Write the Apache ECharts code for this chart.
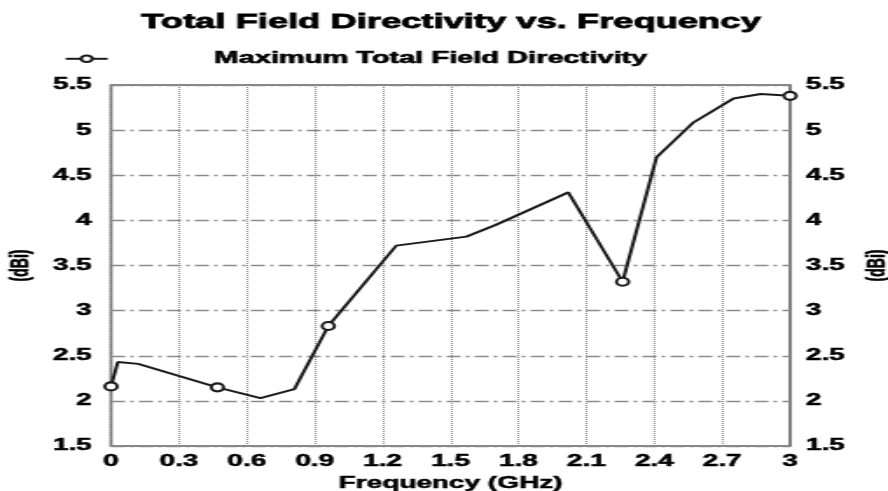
<!DOCTYPE html>
<html>
<head>
<meta charset="utf-8">
<script src="https://cdn.jsdelivr.net/npm/echarts@6/dist/echarts.min.js"></script>
<style>
html,body{margin:0;padding:0;background:#fff;overflow:hidden;}
#c{width:508px;height:491px;transform:scaleX(1.748);transform-origin:0 0;}
</style>
</head>
<body>
<div id="c"></div>
<script>
// Data
const frequencyGHz = [0, 0.03, 0.12, 0.47, 0.66, 0.81, 0.96, 1.26, 1.57, 1.70, 2.02, 2.26, 2.41, 2.57, 2.75, 2.87, 3.0];
const directivityDBi = [2.16, 2.43, 2.41, 2.15, 2.03, 2.13, 2.83, 3.72, 3.82, 3.95, 4.31, 3.32, 4.70, 5.08, 5.35, 5.40, 5.38];
const markerIndices = [0, 3, 6, 11, 16];
const xTickLabels = ['0', '0.3', '0.6', '0.9', '1.2', '1.5', '1.8', '2.1', '2.4', '2.7', '3'];
const yTickLabels = ['1.5', '2', '2.5', '3', '3.5', '4', '4.5', '5', '5.5'];
const seriesName = 'Maximum Total Field Directivity';
const titleText = 'Total Field Directivity vs. Frequency';
const xAxisName = 'Frequency (GHz)';
const yAxisName = '(dBi)';

const FONT = "'Liberation Sans', Arial, sans-serif";
const points = frequencyGHz.map((f, i) => [f, directivityDBi[i]]);

const chart = echarts.init(document.getElementById('c'), null, {renderer: 'canvas'});
const xMin = 0, xMax = 3, xInt = 0.3;
const yMin = 1.5, yMax = 5.5, yInt = 0.5;
const fmtX = v => { const i = Math.round((v - xMin) / xInt); return xTickLabels[i] !== undefined ? xTickLabels[i] : ''; };
const fmtY = v => { const i = Math.round((v - yMin) / yInt); return yTickLabels[i] !== undefined ? yTickLabels[i] : ''; };

const heavy = (size, bw) => ({color: '#000', fontFamily: FONT, fontWeight: 'bold', fontSize: size, textBorderColor: '#000', textBorderWidth: bw === undefined ? 0.5 : bw});
const yAxisCommon = {
  type: 'value', min: yMin, max: yMax, interval: yInt,
  name: yAxisName, nameLocation: 'middle', nameRotate: 90,
  nameTextStyle: heavy(14),
  axisLine: {show: false}, axisTick: {show: false}
};

chart.setOption({
  animation: false,
  backgroundColor: '#fff',
  title: {
    text: titleText, left: 258, top: 12, textAlign: 'center', padding: 0,
    textStyle: heavy(20.8, 0.8)
  },
  legend: {
    data: [seriesName], left: 36.6, top: 50, padding: 0,
    itemWidth: 24, itemHeight: 8,
    textStyle: Object.assign(heavy(16.6, 0.6), {padding: [0, 0, 0, 56]})
  },
  grid: {left: 63.5, right: 56, top: 85, bottom: 45, outerBoundsMode: 'none', containLabel: false,
    show: true, borderColor: '#606060', borderWidth: 1.6, backgroundColor: 'transparent'},
  xAxis: {
    type: 'value', min: xMin, max: xMax, interval: xInt,
    name: xAxisName, nameLocation: 'middle', nameGap: 25,
    nameTextStyle: heavy(16),
    axisLine: {show: false}, axisTick: {show: false},
    axisLabel: Object.assign({formatter: fmtX, margin: 8}, heavy(16)),
    splitLine: {show: true, lineStyle: {color: '#8a8a8a', width: 1.1, type: [1, 1]}}
  },
  yAxis: [
    Object.assign({}, yAxisCommon, {position: 'left', nameGap: 44,
      axisLabel: Object.assign({formatter: fmtY, margin: 11}, heavy(16)),
      splitLine: {show: true, lineStyle: {color: '#8a8a8a', width: 1.3, type: [8, 3, 2, 3]}}}),
    Object.assign({}, yAxisCommon, {position: 'right', nameGap: 43,
      axisLabel: Object.assign({formatter: fmtY, margin: 9}, heavy(16)),
      splitLine: {show: false}})
  ],
  series: [{
    name: seriesName, type: 'line', yAxisIndex: 0,
    data: points,
    symbol: 'emptyCircle',
    symbolSize: (val, params) => markerIndices.indexOf(params.dataIndex) >= 0 ? [7, 8] : 0,
    showAllSymbol: true,
    itemStyle: {color: '#1a1a1a', borderWidth: 1.3},
    lineStyle: {color: '#1a1a1a', width: 2},
    emphasis: {disabled: true}
  }]
});
</script>
</body>
</html>
